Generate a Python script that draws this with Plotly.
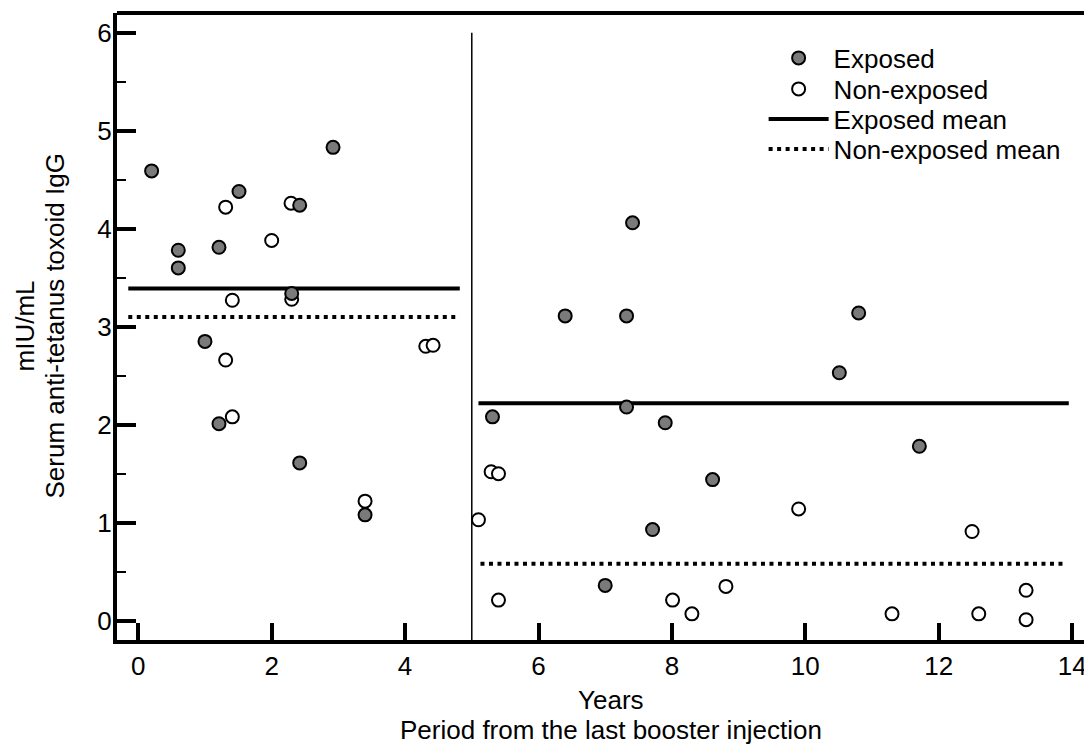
import plotly.graph_objects as go

# ---- data ----
exposed_years = [0.2, 0.6, 0.6, 1.21, 1.51, 2.42, 2.92, 2.3, 1.0, 1.21, 2.42, 3.4,
                 5.31, 6.40, 7.32, 7.41, 10.80, 10.51, 7.32, 7.90, 8.61, 11.71, 7.71, 7.0]
exposed_igg = [4.59, 3.78, 3.60, 3.81, 4.38, 4.24, 4.83, 3.34, 2.85, 2.01, 1.61, 1.08,
               2.08, 3.11, 3.11, 4.06, 3.14, 2.53, 2.18, 2.02, 1.44, 1.78, 0.93, 0.36]

nonexp_years = [1.31, 2.29, 2.0, 2.3, 1.41, 1.31, 1.41, 4.31, 4.42, 3.4,
                5.10, 5.29, 5.40, 5.40, 8.01, 8.30, 8.81, 9.90, 11.30, 12.50, 12.60, 13.31, 13.31]
nonexp_igg = [4.22, 4.26, 3.88, 3.28, 3.27, 2.66, 2.08, 2.80, 2.81, 1.22,
              1.03, 1.52, 1.50, 0.21, 0.21, 0.07, 0.35, 1.14, 0.07, 0.91, 0.07, 0.31, 0.01]

# mean segments for <5 years and >=5 years
exposed_mean_x = [-0.15, 4.82, None, 5.10, 13.95]
exposed_mean_y = [3.39, 3.39, None, 2.22, 2.22]
nonexp_mean_x = [-0.15, 4.82, None, 5.13, 13.92]
nonexp_mean_y = [3.10, 3.10, None, 0.58, 0.58]

split_year = 5
x_ticks = [0, 2, 4, 6, 8, 10, 12, 14]
y_ticks = [0, 1, 2, 3, 4, 5, 6]
x_range = [-0.319, 14.298]
y_range = [-0.197, 6.201]

x_title_lines = ["Years", "Period from the last booster injection"]
y_title_lines = ["mIU/mL", "Serum anti-tetanus toxoid IgG"]

FONT = "Liberation Sans, Arial, sans-serif"
GRAY = "#7a7a7a"

fig = go.Figure()

fig.add_trace(go.Scatter(
    x=exposed_mean_x, y=exposed_mean_y, mode="lines", name="Exposed mean",
    line=dict(color="black", width=4), legend="legend3", hoverinfo="skip"))
fig.add_trace(go.Scatter(
    x=nonexp_mean_x, y=nonexp_mean_y, mode="lines", name="Non-exposed mean",
    line=dict(color="black", width=4, dash="4px,4.5px"), legend="legend4", hoverinfo="skip"))
fig.add_trace(go.Scatter(
    x=nonexp_years, y=nonexp_igg, mode="markers", name="Non-exposed",
    marker=dict(symbol="circle", size=13, color="white", line=dict(color="black", width=2)),
    legend="legend2"))
fig.add_trace(go.Scatter(
    x=exposed_years, y=exposed_igg, mode="markers", name="Exposed",
    marker=dict(symbol="circle", size=13, color=GRAY, line=dict(color="black", width=2)),
    legend="legend"))

# vertical divider at 5 years
fig.add_shape(type="line", xref="x", yref="y", x0=split_year, x1=split_year,
              y0=y_range[0], y1=6, line=dict(color="black", width=1.5))
# top frame line
fig.add_shape(type="line", xref="paper", yref="paper", x0=0, x1=1, y0=1, y1=1,
              line=dict(color="black", width=4))

# axis titles (two lines each)
title_font = dict(family=FONT, size=26, color="black")
fig.add_annotation(text=x_title_lines[0], xref="paper", yref="paper", x=0.5067, y=0,
                   xanchor="center", yanchor="middle", yshift=-60, showarrow=False,
                   font=title_font)
fig.add_annotation(text=x_title_lines[1], xref="paper", yref="paper", x=0.5067, y=0,
                   xanchor="center", yanchor="middle", yshift=-90, showarrow=False,
                   font=title_font)
fig.add_annotation(text=y_title_lines[0], xref="paper", yref="paper", x=0, y=0.5,
                   xanchor="center", yanchor="middle", xshift=-93, textangle=-90,
                   showarrow=False, font=title_font)
fig.add_annotation(text=y_title_lines[1], xref="paper", yref="paper", x=0, y=0.5,
                   xanchor="center", yanchor="middle", xshift=-63, textangle=-90,
                   showarrow=False, font=title_font)

legend_x = 0.6632
legend_rows = [0.9282, 0.8788, 0.8309, 0.7831]
legend_style = dict(x=legend_x, xanchor="left", yanchor="middle",
                    bgcolor="rgba(0,0,0,0)", itemwidth=60, borderwidth=0,
                    font=dict(family=FONT, size=26, color="black"))

# page body has an 8px margin; size the figure so the page is 1092x751
fig.update_layout(
    width=1084, height=743,
    margin=dict(l=109, r=0, t=5, b=111, autoexpand=False),
    paper_bgcolor="white", plot_bgcolor="white",
    font=dict(family=FONT, size=26, color="black"),
    showlegend=True,
    legend=dict(y=legend_rows[0], **legend_style),
    legend2=dict(y=legend_rows[1], **legend_style),
    legend3=dict(y=legend_rows[2], **legend_style),
    legend4=dict(y=legend_rows[3], **legend_style),
    xaxis=dict(range=x_range, tickvals=x_ticks, ticktext=[str(v) for v in x_ticks],
               showgrid=False, zeroline=False, showline=True, linecolor="black",
               linewidth=4, ticks="inside", ticklen=17, tickwidth=4, tickcolor="black",
               tickfont=dict(family=FONT, size=26), automargin=False),
    yaxis=dict(range=y_range, tickvals=y_ticks, ticktext=[str(v) for v in y_ticks],
               showgrid=False, zeroline=False, showline=True, linecolor="black",
               linewidth=4, ticks="inside", ticklen=19, tickwidth=4, tickcolor="black",
               minor=dict(ticks="inside", dtick=0.5, ticklen=9, tickwidth=2,
                          tickcolor="black", showgrid=False),
               tickfont=dict(family=FONT, size=26), automargin=False,
               ticklabelstandoff=-4),
)

fig.write_html("out.html")
